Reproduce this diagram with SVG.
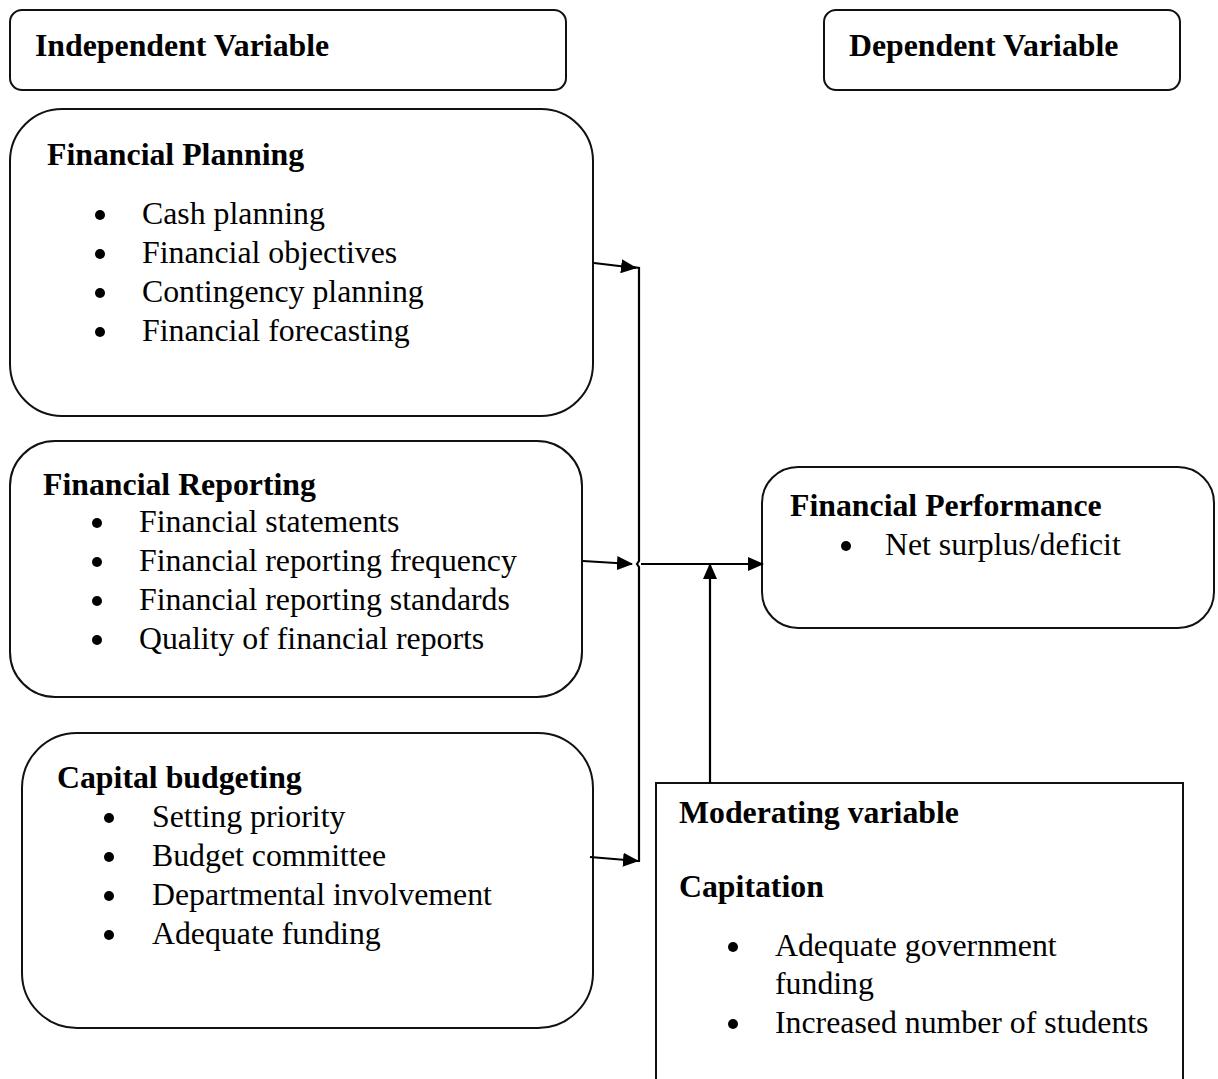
<svg xmlns="http://www.w3.org/2000/svg" width="1218" height="1079" viewBox="0 0 1218 1079">
  <style>
    .box { fill: #ffffff; stroke: #111111; stroke-width: 2; }
    .head { font-family: "Liberation Serif", "Times New Roman", serif; font-weight: bold; font-size: 31.8px; fill: #000000; }
    .item { font-family: "Liberation Serif", "Times New Roman", serif; font-size: 31.8px; fill: #000000; }
    .dot { fill: #000000; }
    .wire { fill: none; stroke: #000000; stroke-width: 2.2; }
  </style>
  <defs>
    <marker id="arrow" viewBox="0 0 16 14" refX="15" refY="7" markerWidth="16" markerHeight="14" markerUnits="userSpaceOnUse" orient="auto">
      <path d="M0,0 L16,7 L0,14 Z" fill="#000000"/>
    </marker>
  </defs>
  <rect width="1218" height="1079" fill="#ffffff"/>

  <!-- header labels -->
  <g id="independent-variable">
    <rect class="box" x="10" y="10" width="556" height="80" rx="12"/>
    <text class="head" x="35" y="56">Independent Variable</text>
  </g>
  <g id="dependent-variable">
    <rect class="box" x="824" y="10" width="356" height="80" rx="12"/>
    <text class="head" x="849" y="56">Dependent Variable</text>
  </g>

  <!-- independent variables -->
  <g id="financial-planning">
    <rect class="box" x="10" y="109" width="583" height="307" rx="52"/>
    <text class="head" x="47" y="165">Financial Planning</text>
    <circle class="dot" cx="100" cy="215" r="5"/>
    <text class="item" x="142" y="224">Cash planning</text>
    <circle class="dot" cx="100" cy="254" r="5"/>
    <text class="item" x="142" y="263">Financial objectives</text>
    <circle class="dot" cx="100" cy="293" r="5"/>
    <text class="item" x="142" y="302">Contingency planning</text>
    <circle class="dot" cx="100" cy="332" r="5"/>
    <text class="item" x="142" y="341">Financial forecasting</text>
  </g>

  <g id="financial-reporting">
    <rect class="box" x="10" y="441" width="572" height="256" rx="45"/>
    <text class="head" x="43" y="495">Financial Reporting</text>
    <circle class="dot" cx="97" cy="523" r="5"/>
    <text class="item" x="139" y="532">Financial statements</text>
    <circle class="dot" cx="97" cy="562" r="5"/>
    <text class="item" x="139" y="571">Financial reporting frequency</text>
    <circle class="dot" cx="97" cy="601" r="5"/>
    <text class="item" x="139" y="610">Financial reporting standards</text>
    <circle class="dot" cx="97" cy="640" r="5"/>
    <text class="item" x="139" y="649">Quality of financial reports</text>
  </g>

  <g id="capital-budgeting">
    <rect class="box" x="22" y="733" width="571" height="295" rx="55"/>
    <text class="head" x="57" y="788">Capital budgeting</text>
    <circle class="dot" cx="109" cy="818" r="5"/>
    <text class="item" x="152" y="827">Setting priority</text>
    <circle class="dot" cx="109" cy="857" r="5"/>
    <text class="item" x="152" y="866">Budget committee</text>
    <circle class="dot" cx="109" cy="896" r="5"/>
    <text class="item" x="152" y="905">Departmental involvement</text>
    <circle class="dot" cx="109" cy="935" r="5"/>
    <text class="item" x="152" y="944">Adequate funding</text>
  </g>

  <!-- dependent variable -->
  <g id="financial-performance">
    <rect class="box" x="762" y="467" width="452" height="161" rx="36"/>
    <text class="head" x="790" y="516">Financial Performance</text>
    <circle class="dot" cx="846" cy="546" r="5"/>
    <text class="item" x="885" y="555">Net surplus/deficit</text>
  </g>

  <!-- moderating variable -->
  <g id="moderating-variable">
    <rect class="box" x="656" y="783" width="527" height="310"/>
    <text class="head" x="679" y="823">Moderating variable</text>
    <text class="head" x="679" y="897">Capitation</text>
    <circle class="dot" cx="733" cy="947" r="5"/>
    <text class="item" x="775" y="956">Adequate government</text>
    <text class="item" x="775" y="994">funding</text>
    <circle class="dot" cx="733" cy="1024" r="5"/>
    <text class="item" x="775" y="1033">Increased number of students</text>
  </g>

  <!-- connectors -->
  <g id="connectors">
    <path class="wire" d="M633,267 L639,268 L639,561 L637,564 L639,567 L639,861 L634,861"/>
    <line class="wire" x1="594" y1="263" x2="636" y2="268" marker-end="url(#arrow)"/>
    <line class="wire" x1="583" y1="561" x2="632" y2="564" marker-end="url(#arrow)"/>
    <line class="wire" x1="590" y1="857" x2="638" y2="861" marker-end="url(#arrow)"/>
    <line class="wire" x1="641" y1="564" x2="763" y2="564" marker-end="url(#arrow)"/>
    <line class="wire" x1="710" y1="783" x2="710" y2="564" marker-end="url(#arrow)"/>
  </g>
</svg>
